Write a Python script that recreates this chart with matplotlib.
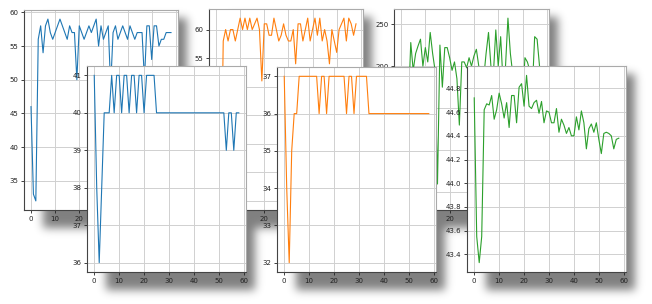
import numpy as np
import matplotlib
matplotlib.use("Agg")
import matplotlib.pyplot as plt
from matplotlib.ticker import MultipleLocator

W, H = 652, 304
DPI = 100

steps = list(range(59))

blue_back = [46, 33, 32, 56, 58, 54, 58, 59, 57, 56, 57, 58, 59, 58, 57, 56, 58, 57, 57, 50,
             58, 57, 56, 57, 58, 57, 58, 59, 55, 58, 56, 57, 58, 49, 57, 58, 56, 57, 58, 57,
             56, 58, 57, 56, 57, 57, 57, 50, 58, 58, 53, 58, 58, 55, 56, 56, 57, 57, 57]
blue_front = [41, 38, 36, 38, 40, 40, 40, 41, 40, 41, 41, 40, 41, 41, 40, 41, 41, 40, 41, 41,
              40, 41, 41, 41, 41, 40, 40, 40, 40, 40, 40, 40, 40, 40, 40, 40, 40, 40, 40, 40,
              40, 40, 40, 40, 40, 40, 40, 40, 40, 40, 40, 40, 40, 39, 40, 40, 39, 40, 40]
orange_back = [45, 32, 30, 58, 60, 58, 60, 60, 58, 60, 62, 60, 62, 60, 62, 60, 61, 62, 60, 51,
               61, 61, 59, 59, 62, 60, 58, 59, 61, 59, 58, 58, 60, 54, 61, 61, 58, 60, 62, 58,
               60, 62, 59, 62, 58, 60, 58, 54, 60, 58, 56, 60, 61, 62, 58, 62, 61, 59, 61]
orange_front = [37, 34, 32, 35, 36, 36, 37, 37, 37, 37, 37, 37, 37, 37, 36, 37, 37, 36, 37, 37,
                37, 37, 37, 37, 37, 36, 37, 37, 36, 37, 37, 37, 37, 37, 36, 36, 36, 36, 36, 36,
                36, 36, 36, 36, 36, 36, 36, 36, 36, 36, 36, 36, 36, 36, 36, 36, 36, 36, 36]
green_back = [180, 60, 40, 150, 228, 195, 215, 224, 232, 200, 222, 205, 240, 215, 195, 60, 225, 175, 222, 222,
              210, 195, 205, 185, 130, 205, 205, 198, 210, 200, 212, 220, 200, 190, 185, 215, 240, 200, 190, 243,
              200, 235, 180, 200, 257, 215, 190, 185, 175, 190, 160, 210, 205, 195, 170, 235, 232, 200, 180]
green_front = [44.72, 43.55, 43.33, 43.55, 44.62, 44.67, 44.66, 44.74, 44.54, 44.62, 44.76, 44.67, 44.55, 44.68,
               44.47, 44.74, 44.74, 44.51, 44.81, 44.84, 44.65, 44.91, 44.65, 44.63, 44.68, 44.70, 44.59,
               44.69, 44.51, 44.61, 44.60, 44.51, 44.51, 44.63, 44.43, 44.54, 44.49, 44.42, 44.47, 44.40,
               44.40, 44.56, 44.45, 44.61, 44.51, 44.29, 44.46, 44.50, 44.43, 44.51, 44.37, 44.25, 44.42,
               44.43, 44.42, 44.40, 44.29, 44.37, 44.38]

# panel frames in pixels (left, top, right, bottom)
panels = [
    dict(rect=(24, 10, 178, 210), y=blue_back, color="#1f77b4", ystep=5),
    dict(rect=(209, 9, 363, 210), y=orange_back, color="#ff7f0e", ystep=5),
    dict(rect=(394, 9, 549, 210), y=green_back, color="#2ca02c", ystep=50),
    dict(rect=(87, 66, 246, 272), y=blue_front, color="#1f77b4", ystep=1),
    dict(rect=(277, 67, 436, 272), y=orange_front, color="#ff7f0e", ystep=1),
    dict(rect=(467, 66, 626, 272), y=green_front, color="#2ca02c", ystep=0.2),
]


def frac(r):
    x0, y0, x1, y1 = r
    return [x0 / W, 1 - y1 / H, (x1 - x0) / W, (y1 - y0) / H]


fig = plt.figure(figsize=(W / DPI, H / DPI), dpi=DPI, facecolor="white")

# soft drop shadows behind every panel
mask = np.zeros((H, W))
dx, dy, ext = 9, 8, 10
for p in panels:
    x0, y0, x1, y1 = p["rect"]
    mask[y0 + dy:min(H, y1 + dy + ext), x0 + dx + 10:min(W, x1 + dx)] = 1.0
sig = 4.5
k = np.exp(-0.5 * (np.arange(-15, 16) / sig) ** 2)
k /= k.sum()
blur = np.apply_along_axis(lambda r: np.convolve(r, k, mode="same"), 1, mask)
blur = np.apply_along_axis(lambda c: np.convolve(c, k, mode="same"), 0, blur)
rgba = np.zeros((H, W, 4))
rgba[..., 3] = 0.5 * blur
bg = fig.add_axes([0, 0, 1, 1], zorder=-5)
bg.imshow(rgba, extent=(0, W, H, 0), aspect="auto", interpolation="bilinear")
bg.set_xlim(0, W)
bg.set_ylim(H, 0)
bg.axis("off")

for p in panels:
    ax = fig.add_axes(frac(p["rect"]))
    ax.set_facecolor("white")
    ax.plot(steps, p["y"], color=p["color"], lw=0.8)
    ax.xaxis.set_major_locator(MultipleLocator(10))
    ax.yaxis.set_major_locator(MultipleLocator(p["ystep"]))
    if p["ystep"] < 1:
        ax.yaxis.set_major_formatter(matplotlib.ticker.FormatStrFormatter("%.1f"))
    ax.grid(True, color="#d0d0d0", lw=0.7)
    ax.set_axisbelow(True)
    ax.tick_params(labelsize=5, length=2.5, width=0.6, pad=1.5, colors="#222222")
    for s in ("left", "bottom"):
        ax.spines[s].set_color("#444444")
        ax.spines[s].set_linewidth(0.8)
    for s in ("top", "right"):
        ax.spines[s].set_color("#aaaaaa")
        ax.spines[s].set_linewidth(0.8)

fig.savefig("out.png", dpi=DPI, facecolor="white")
